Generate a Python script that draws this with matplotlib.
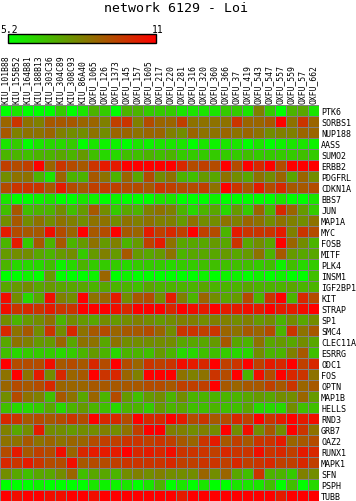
import numpy as np
import matplotlib
matplotlib.use("Agg")
import matplotlib.pyplot as plt
from matplotlib.colors import LinearSegmentedColormap

# sample (column) labels
samples = ["KIU_101B88", "KIU_155B52", "KIU_164B81", "KIU_188B13", "KIU_303C36",
           "KIU_304C89", "KIU_308C93", "KIU_86A40", "OXFU_1065", "OXFU_126",
           "OXFU_1373", "OXFU_145", "OXFU_157", "OXFU_1605", "OXFU_217",
           "OXFU_220", "OXFU_281", "OXFU_316", "OXFU_320", "OXFU_360",
           "OXFU_366", "OXFU_37", "OXFU_419", "OXFU_543", "OXFU_547",
           "OXFU_557", "OXFU_559", "OXFU_57", "OXFU_662"]

# gene (row) labels
genes = ["PTK6", "SORBS1", "NUP188", "AASS", "SUMO2", "ERBB2", "PDGFRL", "CDKN1A",
         "BBS7", "JUN", "MAP1A", "MYC", "FOSB", "MITF", "PLK4", "INSM1", "IGF2BP1",
         "KIT", "STRAP", "SP1", "SMC4", "CLEC11A", "ESRRG", "ODC1", "FOS", "OPTN",
         "MAP1B", "HELLS", "RND3", "GRB7", "OAZ2", "RUNX1", "MAPK1", "SFN", "PSPH", "TUBB"]

vmin, vmax = 5.2, 11

# expression values, one row per gene
expr = [
    [5.2,5.8,5.2,5.2,5.2,6.4,5.2,5.8,6.9,6.4,5.2,6.9,6.9,6.4,6.4, 6.4,5.8,5.8,5.8,5.8,6.4,6.4,5.8,8.1,6.4,5.2,6.9,7.2,5.8],  # PTK6
    [8.7,9.8,8.4,8.1,9.0,9.0,9.0,8.7,8.7,8.1,9.55,9.8,8.1,9.3,8.7, 8.7,9.55,8.4,8.4,8.4,8.4,9.8,8.7,8.7,9.0,11.0,8.4,9.8,8.7],  # SORBS1
    [9.0,8.1,8.4,8.4,8.7,8.1,7.8,7.8,8.4,7.8,8.7,8.7,8.4,8.7,8.7, 8.1,7.8,8.7,8.4,8.4,8.7,8.4,8.7,8.4,7.8,8.1,8.1,8.7,8.7],  # NUP188
    [5.8,6.4,5.2,5.8,6.1,6.1,6.4,5.2,5.8,5.5,5.5,5.2,5.8,5.5,5.8, 5.8,5.8,5.2,5.8,5.5,5.8,5.8,5.2,5.8,5.2,5.5,5.8,5.8,5.5],  # AASS
    [6.9,6.9,6.65,6.9,6.9,7.2,6.9,7.5,6.65,6.1,6.1,6.65,6.65,6.9,6.65, 6.9,6.4,6.4,6.4,6.4,6.4,6.4,6.65,6.4,6.4,6.4,6.4,6.65,6.4],  # SUMO2
    [9.55,9.3,9.55,11.0,8.7,9.8,9.3,9.0,9.8,10.4,10.4,11.0,11.0,11.0,11.0, 11.0,10.1,9.3,9.55,9.3,11.0,9.3,11.0,10.1,11.0,9.3,11.0,11.0,11.0],  # ERBB2
    [7.8,8.4,8.4,6.9,5.8,8.7,6.9,6.9,9.0,8.4,6.9,8.7,7.2,9.3,7.8, 8.4,6.9,6.65,7.5,7.2,8.4,7.8,7.2,8.4,7.8,8.7,7.2,8.7,7.8],  # PDGFRL
    [9.3,9.8,9.8,9.8,9.0,10.4,9.3,9.0,9.55,9.55,9.55,9.3,9.3,9.0,9.8, 9.55,9.3,9.3,9.55,8.4,11.0,9.8,9.0,10.4,9.3,10.1,9.0,9.0,9.3],  # CDKN1A
    [5.8,5.2,5.2,5.5,5.8,5.2,5.2,5.8,5.5,5.2,5.5,5.2,5.2,5.2,5.8, 5.8,5.2,5.2,5.2,5.5,5.2,5.2,5.2,5.2,5.2,5.8,5.2,5.2,5.8],  # BBS7
    [6.65,9.0,6.65,6.9,6.9,7.8,6.65,7.5,9.0,7.8,6.4,7.2,6.9,8.1,8.4, 8.1,6.9,6.1,6.9,7.2,6.1,7.5,6.4,8.7,6.9,10.1,8.7,7.5,6.4],  # JUN
    [7.8,9.0,7.8,8.4,7.8,8.4,8.1,7.8,8.4,8.4,7.8,8.4,8.1,8.4,8.1, 8.1,7.5,8.4,7.8,7.8,8.4,8.1,8.7,8.4,7.8,8.4,8.1,7.8,8.4],  # MAP1A
    [10.4,9.3,9.0,9.0,10.7,9.3,8.7,11.0,9.0,9.3,11.0,9.0,8.7,10.4,9.55, 10.1,9.55,11.0,9.55,9.3,6.9,10.4,9.8,9.8,9.8,10.4,8.1,9.8,9.3],  # MYC
    [6.9,10.4,6.4,9.0,6.9,9.0,6.9,7.5,8.4,7.5,8.1,6.9,7.5,9.55,10.4, 8.4,7.2,7.2,7.2,7.5,7.2,9.8,7.2,7.8,7.2,11.0,8.7,7.8,6.9],  # FOSB
    [7.5,7.8,7.8,7.2,6.9,7.5,7.8,6.4,7.5,8.1,7.5,9.0,7.5,7.2,7.5, 8.4,6.9,7.2,7.2,7.2,7.5,7.2,7.5,8.4,6.9,9.0,7.5,7.2,7.2],  # MITF
    [6.9,6.1,6.1,6.1,6.65,5.5,6.1,6.9,6.4,6.4,6.4,6.1,6.4,6.4,6.4, 6.1,6.4,6.4,6.65,6.65,6.65,6.65,6.65,6.4,6.65,5.5,6.65,6.1,6.4],  # PLK4
    [5.2,5.2,5.5,5.2,7.5,5.2,5.2,5.2,5.5,8.7,5.2,5.5,5.2,5.2,5.2, 5.2,5.2,5.2,5.5,5.2,5.5,5.5,5.2,5.5,5.2,5.5,5.2,5.2,6.65],  # INSM1
    [7.2,7.5,7.8,7.2,7.5,7.2,7.2,7.2,6.9,7.2,6.9,6.9,6.65,7.2,6.9, 6.9,6.9,6.9,7.2,6.9,6.9,6.9,7.2,6.9,6.9,6.9,7.2,6.9,6.9],  # IGF2BP1
    [10.7,7.8,6.1,7.2,10.7,8.1,7.8,11.0,8.4,8.7,10.4,7.8,9.0,9.3,7.8, 10.4,8.1,6.9,8.7,7.8,7.2,7.5,9.3,6.9,9.8,11.0,6.9,10.1,9.3],  # KIT
    [10.7,9.8,10.1,9.8,10.4,9.8,9.8,11.0,11.0,11.0,10.7,10.1,11.0,11.0,11.0, 10.1,11.0,10.7,10.4,11.0,10.4,10.4,10.7,10.4,11.0,10.4,10.4,10.7,11.0],  # STRAP
    [7.8,6.9,7.5,7.8,8.4,6.9,7.8,7.5,7.2,7.8,7.5,7.8,8.1,7.8,7.5, 7.8,8.1,8.1,7.8,8.1,8.1,7.8,8.1,7.5,7.8,6.9,7.8,7.2,7.8],  # SP1
    [10.1,8.4,9.0,7.8,9.8,7.8,10.1,8.4,9.0,9.3,8.7,9.0,9.0,9.3,8.7, 7.8,9.8,9.8,9.55,9.8,8.7,8.4,9.0,8.7,9.3,6.9,9.8,8.4,9.0],  # SMC4
    [7.2,8.4,8.1,7.5,7.5,8.7,7.2,8.4,8.4,7.2,8.4,7.8,7.8,7.8,7.8, 7.8,7.2,7.2,7.2,7.5,9.0,7.2,6.9,8.4,7.2,7.5,7.2,7.8,7.2],  # CLEC11A
    [6.65,6.1,6.4,6.4,6.4,6.1,6.4,6.9,7.5,6.9,6.1,6.9,6.9,6.65,7.5, 6.9,6.1,6.1,6.65,6.65,6.4,6.1,6.1,7.8,6.9,6.9,8.1,9.0,6.65],  # ESRRG
    [11.0,9.3,9.3,9.3,10.7,9.0,9.3,9.0,10.1,9.3,11.0,9.3,8.7,9.8,9.55, 9.8,10.7,10.4,10.1,11.0,9.55,9.8,11.0,9.55,10.4,10.1,11.0,9.55,10.1],  # ODC1
    [8.4,11.0,8.4,10.4,7.8,10.1,8.7,9.0,11.0,9.8,10.1,8.7,8.1,11.0,11.0, 11.0,8.4,8.1,8.4,9.8,9.3,11.0,6.9,10.7,9.3,11.0,10.1,9.8,8.4],  # FOS
    [8.7,9.3,9.0,9.3,10.1,8.7,8.7,8.7,9.0,9.0,9.0,9.0,9.0,9.3,9.3, 9.0,9.55,9.55,9.55,11.0,9.0,8.7,9.0,9.0,9.55,9.0,9.8,8.7,9.0],  # OPTN
    [7.8,9.3,8.4,8.1,6.65,9.0,8.4,7.2,8.7,6.9,9.3,7.5,6.65,7.5,7.8, 6.9,7.8,6.9,6.9,6.9,6.9,6.9,7.2,7.5,7.2,7.8,7.8,8.7,7.5],  # MAP1B
    [6.65,6.1,6.1,6.4,7.2,6.1,6.9,7.5,6.9,6.65,6.1,6.9,6.9,6.4,7.5, 6.9,7.2,6.65,6.65,6.9,6.65,6.65,7.2,6.1,6.1,6.1,7.8,6.65,6.65],  # HELLS
    [10.1,9.8,9.0,9.3,9.0,9.3,9.8,9.3,11.0,10.1,10.1,9.3,11.0,10.1,10.1, 11.0,10.4,9.3,9.8,9.0,9.3,10.1,9.55,11.0,9.8,10.4,11.0,10.4,10.7],  # RND3
    [8.1,7.2,7.8,10.4,7.8,7.8,7.5,7.8,7.8,8.1,7.8,8.4,9.55,11.0,11.0, 8.1,8.1,7.8,8.1,7.8,11.0,7.8,10.7,7.8,9.0,7.8,11.0,9.8,8.4],  # GRB7
    [8.4,8.4,9.0,8.4,8.7,8.4,8.7,8.7,9.3,9.55,9.55,9.8,9.8,9.55,9.8, 9.55,9.0,8.7,9.8,10.4,9.0,9.55,9.0,9.8,9.8,10.4,8.7,9.0,9.3],  # OAZ2
    [9.3,10.4,9.0,9.55,9.3,10.7,8.7,10.1,10.4,10.4,10.4,11.0,10.1,10.4,10.1, 10.7,9.8,9.8,9.8,9.55,10.1,9.8,9.8,10.7,9.8,10.1,9.55,10.4,10.1],  # RUNX1
    [10.1,9.8,10.4,9.8,9.3,9.3,10.7,9.0,9.3,9.3,9.55,9.8,9.8,9.8,9.8, 10.1,9.55,9.55,9.8,9.8,9.55,10.1,9.55,9.8,10.1,9.55,9.55,10.1,9.55],  # MAPK1
    [7.8,7.2,6.65,7.2,7.2,7.8,8.7,6.65,7.2,7.2,6.9,7.8,8.1,7.8,8.1, 7.8,7.8,7.8,8.7,7.8,8.7,7.2,6.65,9.8,6.9,6.9,6.4,8.1,7.8],  # SFN
    [5.2,5.2,5.2,5.5,5.2,5.2,5.2,5.2,5.8,5.5,5.5,5.8,5.2,5.8,6.9, 5.2,5.8,5.2,5.8,5.2,5.2,5.8,5.8,5.8,6.65,5.2,6.65,5.2,6.1],  # PSPH
    [11.0,10.7,11.0,11.0,10.7,10.7,11.0,11.0,10.7,11.0,11.0,11.0,11.0,11.0,11.0, 11.0,10.4,11.0,11.0,11.0,11.0,11.0,11.0,11.0,11.0,10.4,11.0,11.0,11.0],  # TUBB
]

data = np.array(expr)

W, H = 356, 502
fig = plt.figure(figsize=(W / 100, H / 100), dpi=100)
fig.patch.set_facecolor("white")

cmap = LinearSegmentedColormap.from_list("gr", ["#00ff00", "#808000", "#ff0000"])

# heatmap grid: 29 cols x 36 rows, 11 px each, top at y=106
ax = fig.add_axes([0, 0, 319 / W, 396 / H])
mesh = ax.pcolormesh(data, cmap=cmap, vmin=vmin, vmax=vmax,
                     edgecolors="#808080", linewidth=0.72, antialiased=False,
                     snap=True)
ax.set_xlim(0, len(samples))
ax.set_ylim(len(genes), 0)
for s in ax.spines.values():
    s.set_visible(False)

mono = "DejaVu Sans Mono"
ax.set_xticks(np.arange(len(samples)) + 0.5)
ax.set_xticklabels(samples, rotation=90, fontsize=5.8, family=mono)
ax.xaxis.tick_top()
ax.set_yticks(np.arange(len(genes)) + 0.5)
ax.set_yticklabels(genes, fontsize=6, family=mono)
ax.yaxis.tick_right()
ax.tick_params(length=0, pad=1.5)

# colour bar
cax = fig.add_axes([8 / W, 1 - 44 / H, 148 / W, 9 / H])
cb = fig.colorbar(mesh, cax=cax, orientation="horizontal")
cb.set_ticks([])
cb.outline.set_edgecolor("black")
cb.outline.set_linewidth(1)
fig.text(0 / W, 1 - 30 / H, "5.2", fontsize=7, family=mono, ha="left", va="center")
fig.text(164 / W, 1 - 30 / H, "11", fontsize=7, family=mono, ha="right", va="center")

fig.text(176 / W, 1 - 9 / H, "network 6129 - Loi", fontsize=9.5, family=mono,
         ha="center", va="center")

fig.savefig("out.png", dpi=100, facecolor="white")
